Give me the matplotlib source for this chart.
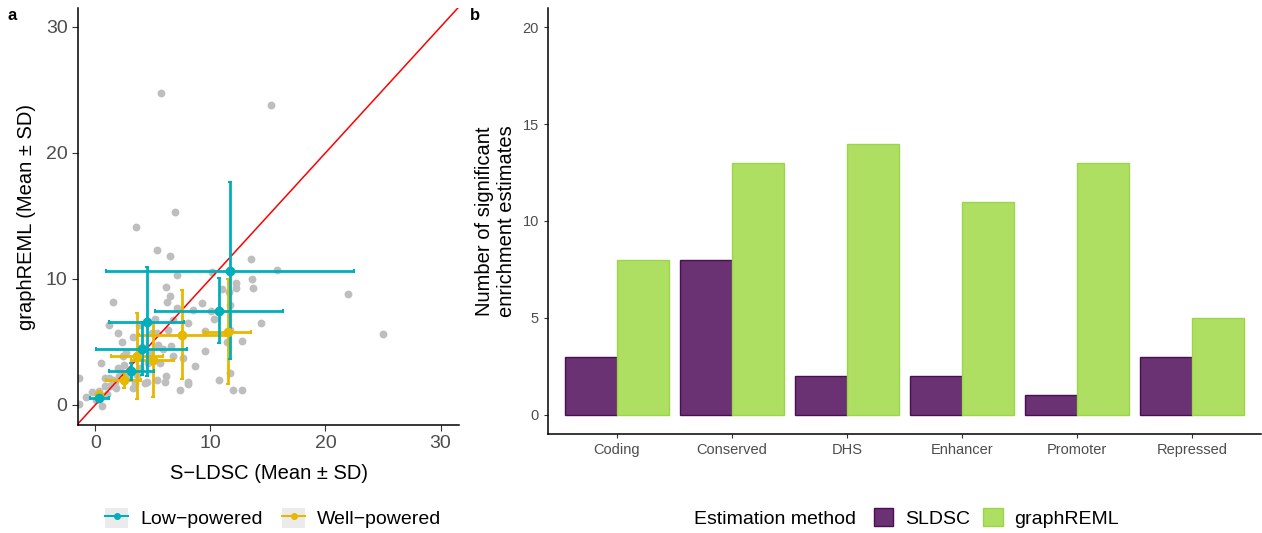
import numpy as np
import matplotlib.pyplot as plt
from matplotlib.lines import Line2D
from matplotlib.patches import Patch
from matplotlib.legend_handler import HandlerTuple

plt.rcParams['font.family'] = ['Liberation Sans', 'DejaVu Sans']

# panel a: grey points (S-LDSC mean, graphREML mean)
grey_x = [5.69, 15.23, 6.91, 3.53, 5.40, 6.45, 13.53, 15.78, 10.17, 7.11, 13.61, 12.23,
          6.16, 12.25, 13.70, 10.98, 11.59, 22.0, 6.53, 6.21, 1.56, 9.31, 11.71, 8.50,
          7.14, 10.09, 10.29, 5.17, 8.03, 14.42, 1.18, 3.79, 1.99, 9.51, 25.03, 11.45,
          12.72, 2.31, 6.59, 5.46, 2.63, 9.54, 0.49, 8.67, 2.40, 1.97, 2.25, 0.84, 1.16,
          -1.42, 5.35, 6.18, 6.07, 8.03, 8.06, 10.72, 7.34, 11.94, 12.77, 4.28, 4.51,
          3.27, 3.47, 2.92, 1.82, -0.32, -0.81, -1.42, 0.58, 0.35, 1.30, 3.61, 5.64,
          6.79, 4.77, 5.35, 6.36, 4.91, 6.79, 3.27, 4.05, 0.87, 1.73, 2.02, 2.46,
          11.71, 11.71, 1.5, 2.8, 3.9, 4.6, 5.9, 7.6, 0.1, 1.0]
grey_y = [24.74, 23.84, 15.32, 14.13, 12.30, 11.83, 11.56, 10.69, 10.58, 10.32, 9.97, 9.71,
          9.37, 9.31, 9.29, 9.18, 8.97, 8.78, 8.60, 8.20, 8.15, 8.10, 7.94, 7.54,
          7.67, 7.46, 6.83, 6.85, 6.48, 6.51, 6.30, 6.35, 5.74, 5.87, 5.66, 4.97,
          5.08, 4.95, 4.71, 4.76, 4.23, 4.29, 3.36, 3.10, 3.89, 2.94, 2.59, 2.17, 2.12,
          2.17, 1.98, 2.28, 1.83, 1.80, 1.64, 1.96, 1.19, 1.14, 1.14, 1.77, 1.85,
          1.32, 1.72, 2.51, 1.32, 1.01, 0.61, 0.05, -0.08, 1.06, 1.46, 2.38, 3.31,
          3.84, 4.10, 5.69, 5.95, 5.69, 6.75, 5.42, 4.63, 1.46, 1.85, 2.25, 3.17,
          2.51, 5.95, 2.0, 2.2, 2.9, 3.3, 4.4, 3.7, 0.4, 0.9]

# panel a: group means with SD
low_x = [11.71, 10.72, 4.48, 4.02, 3.12, 0.35]
low_xsd = [10.8, 5.56, 3.25, 3.99, 1.97, 0.84]
low_y = [10.66, 7.46, 6.61, 4.44, 2.65, 0.58]
low_ysd = [7.0, 2.58, 4.34, 2.1, 0.66, 0.2]

well_x = [11.5, 7.54, 3.64, 5.0, 2.46, 0.35]
well_xsd = [2.07, 3.73, 2.24, 1.88, 1.53, 0.3]
well_y = [5.82, 5.58, 3.89, 3.57, 1.98, 0.79]
well_ysd = [4.2, 3.55, 3.39, 2.95, 0.63, 0.3]

# panel b
categories = ['Coding', 'Conserved', 'DHS', 'Enhancer', 'Promoter', 'Repressed']
sldsc = [3, 8, 2, 2, 1, 3]
graphreml = [8, 13, 14, 11, 13, 5]

teal = '#00AFBB'
gold = '#E7B800'
purple = '#6A3272'
purple_edge = '#4A0E52'
green = '#AEDF63'
green_edge = '#9AD64A'
tick_col = '#4D4D4D'

fig = plt.figure(figsize=(12.62, 5.33), dpi=100)
W, H = 1262, 533

# ---- panel a ----
ax = fig.add_axes([78 / W, (H - 425) / H, (459 - 78) / W, (425 - 8) / H])
ax.scatter(grey_x, grey_y, s=32, color='#BEBEBE', linewidths=0, zorder=1)
ax.plot([-5, 40], [-5, 40], color='red', lw=1.1, zorder=2)
for xs, xsd, ys, ysd, c in [(well_x, well_xsd, well_y, well_ysd, gold),
                            (low_x, low_xsd, low_y, low_ysd, teal)]:
    ax.errorbar(xs, ys, xerr=xsd, yerr=ysd, fmt='o', color=c, ms=6,
                elinewidth=2, capsize=1.5, capthick=1.5, zorder=3)
ax.set_xlim(-1.5, 31.6)
ax.set_ylim(-1.6, 31.5)
ax.set_xticks([0, 10, 20, 30])
ax.set_yticks([0, 10, 20, 30])
ax.tick_params(labelsize=14, colors='#333333', labelcolor=tick_col, length=4, width=0.8)
for s in ['top', 'right']:
    ax.spines[s].set_visible(False)
for s in ['left', 'bottom']:
    ax.spines[s].set_linewidth(1.1)
ax.set_xlabel('S\u2212LDSC (Mean \u00b1 SD)', fontsize=14.5, labelpad=8)
ax.set_ylabel('graphREML (Mean \u00b1 SD)', fontsize=14.5, labelpad=7)

key_bg = Patch(facecolor='#EBEBEB', edgecolor='none')
handles_a = [(key_bg, Line2D([], [], color=teal, marker='o', ms=4, lw=1.5)),
             (key_bg, Line2D([], [], color=gold, marker='o', ms=4, lw=1.5))]
fig.legend(handles_a, ['Low\u2212powered', 'Well\u2212powered'],
           loc='center', bbox_to_anchor=(273 / W, 1 - 518 / H), ncol=2,
           frameon=False, fontsize=14, handlelength=1.2, handleheight=1.2,
           handletextpad=0.6, columnspacing=1.0,
           handler_map={tuple: HandlerTuple(ndivide=1, pad=0)})
fig.text(8 / W, 1 - 15 / H, 'a', fontsize=12, fontweight='bold', va='center')

# ---- panel b ----
bx = fig.add_axes([548 / W, (H - 434) / H, (1261 - 548) / W, (434 - 8) / H])
pos = np.arange(len(categories))
bw = 0.45
bx.bar(pos - bw / 2, sldsc, width=bw, color=purple, edgecolor=purple_edge, linewidth=1)
bx.bar(pos + bw / 2, graphreml, width=bw, color=green, edgecolor=green_edge, linewidth=1)
bx.set_xlim(-0.6, len(categories) - 0.4)
bx.set_ylim(-1, 21)
bx.set_yticks([0, 5, 10, 15, 20])
bx.set_xticks(pos)
bx.set_xticklabels(categories)
bx.tick_params(labelsize=10.5, colors='#333333', labelcolor=tick_col, length=3, width=0.8)
for s in ['top', 'right']:
    bx.spines[s].set_visible(False)
for s in ['left', 'bottom']:
    bx.spines[s].set_linewidth(1.1)
bx.set_ylabel('Number of significant\nenrichment estimates', fontsize=14.5,
              linespacing=1.15, labelpad=5)

handles_b = [Patch(facecolor=purple, edgecolor=purple_edge),
             Patch(facecolor=green, edgecolor=green_edge)]
fig.text(694 / W, 1 - 520 / H, 'Estimation method', fontsize=14, va='center')
fig.legend(handles_b, ['SLDSC', 'graphREML'],
           loc='center left', bbox_to_anchor=(864 / W, 1 - 518 / H), ncol=2,
           frameon=False, fontsize=14, handlelength=1.0, handleheight=1.0,
           handletextpad=0.6, columnspacing=0.7, borderpad=0)
fig.text(470 / W, 1 - 15 / H, 'b', fontsize=12, fontweight='bold', va='center')

fig.savefig('out.png', dpi=100)
